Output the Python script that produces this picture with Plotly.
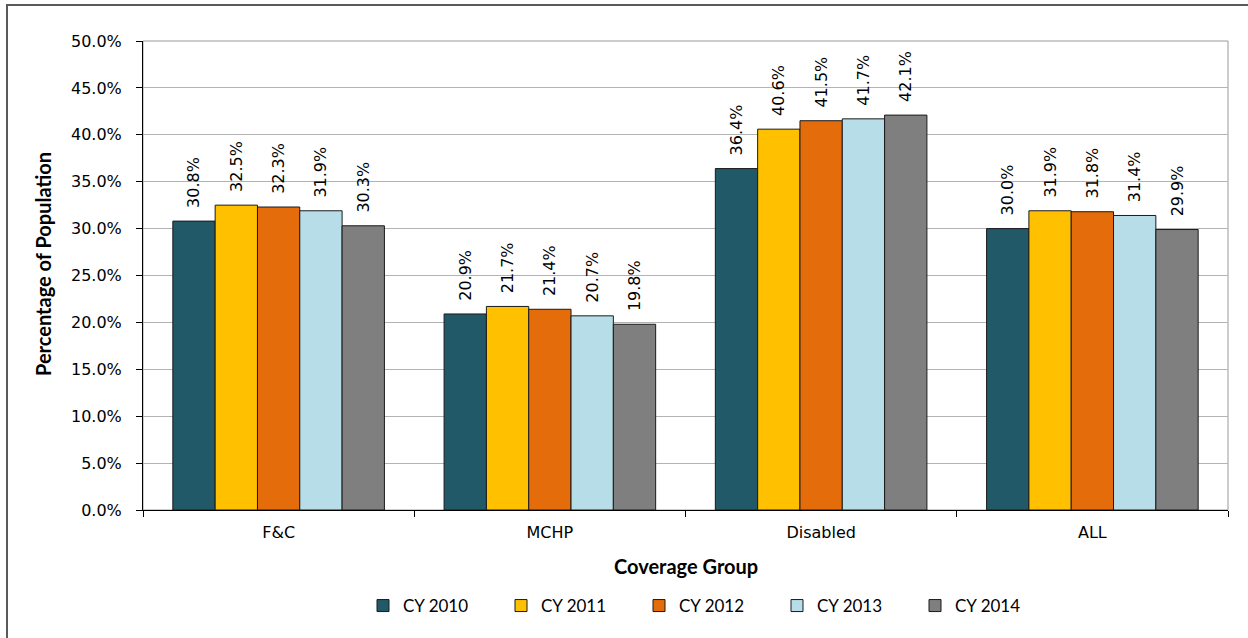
import plotly.graph_objects as go

categories = ["F&C", "MCHP", "Disabled", "ALL"]
series_names = ["CY 2010", "CY 2011", "CY 2012", "CY 2013", "CY 2014"]
cy2010 = [30.8, 20.9, 36.4, 30.0]
cy2011 = [32.5, 21.7, 40.6, 31.9]
cy2012 = [32.3, 21.4, 41.5, 31.8]
cy2013 = [31.9, 20.7, 41.7, 31.4]
cy2014 = [30.3, 19.8, 42.1, 29.9]
series_values = [cy2010, cy2011, cy2012, cy2013, cy2014]
colors = ["#215968", "#FFC000", "#E46C0A", "#B7DEE8", "#7F7F7F"]
y_ticks = [0, 5, 10, 15, 20, 25, 30, 35, 40, 45, 50]
y_tick_labels = [f"{v:.1f}%" for v in y_ticks]

W, H = 1248, 638
L, R, T, B = 143, 1228, 41, 510
pw, ph = R - L, B - T


def px(x):
    return (x - L) / pw


def py(y):
    return (B - y) / ph


fig = go.Figure()
for name, vals, col in zip(series_names, series_values, colors):
    fig.add_trace(go.Bar(
        name=name, x=categories, y=vals,
        marker=dict(color=col, line=dict(color="#1a1a1a", width=1)),
        text=["\u00a0\u00a0" + f"{v:.1f}%" for v in vals],
        textposition="outside", textangle=-90,
        textfont=dict(family="DejaVu Sans", size=16, color="#000000"),
        cliponaxis=False, constraintext="none",
    ))

fig.update_layout(
    width=W, height=H,
    margin=dict(l=L, r=W - R, t=T, b=H - B),
    paper_bgcolor="white", plot_bgcolor="white",
    barmode="group", bargap=0.22, bargroupgap=0,
    showlegend=True,
    legend=dict(orientation="h", x=px(363), xanchor="left", y=py(606), yanchor="middle",
                font=dict(family="Lato", size=17, color="#000000"),
                entrywidth=93, entrywidthmode="pixels", itemwidth=30,
                traceorder="normal"),
    xaxis=dict(showline=True, linecolor="#000000", linewidth=1,
               ticks="outside", ticklen=6, tickcolor="#000000", tickson="boundaries",
               tickfont=dict(family="DejaVu Sans", size=16, color="#000000"),
               ticklabelstandoff=8,
               showgrid=False),
    yaxis=dict(range=[0, 50], tickvals=y_ticks, ticktext=y_tick_labels,
               showline=True, linecolor="#000000", linewidth=1,
               ticks="outside", ticklen=6, tickcolor="#000000",
               tickfont=dict(family="DejaVu Sans", size=16, color="#000000"),
               ticklabelstandoff=11,
               showgrid=True, gridcolor="#B3B3B3", gridwidth=1, zeroline=False),
    shapes=[
        dict(type="rect", xref="paper", yref="paper", x0=0, x1=1, y0=0, y1=1,
             line=dict(color="#9A9A9A", width=1), layer="below"),
        dict(type="rect", xref="paper", yref="paper", x0=px(7), x1=px(W + 20),
             y0=py(H + 20), y1=py(5), line=dict(color="#5A5A5A", width=2), layer="below"),
    ],
    annotations=[
        dict(text="<b>Percentage of Population</b>", xref="paper", yref="paper",
             x=px(43), y=py(264), xanchor="center", yanchor="middle", textangle=-90,
             showarrow=False, font=dict(family="Lato", size=20, color="#000000")),
        dict(text="<b>Coverage Group</b>", xref="paper", yref="paper",
             x=px(686), y=py(566), xanchor="center", yanchor="middle",
             showarrow=False, font=dict(family="Lato", size=20, color="#000000")),
        dict(text="<b>by Coverage Group, CY 2010 – CY 2014</b>", xref="paper", yref="paper",
             x=px(375), y=py(-17), xanchor="left", yanchor="middle",
             showarrow=False, font=dict(family="Lato", size=28, color="#000000")),
    ],
)

fig.write_html("out.html", config={"displayModeBar": False},
               post_script="document.body.style.margin='0';")
